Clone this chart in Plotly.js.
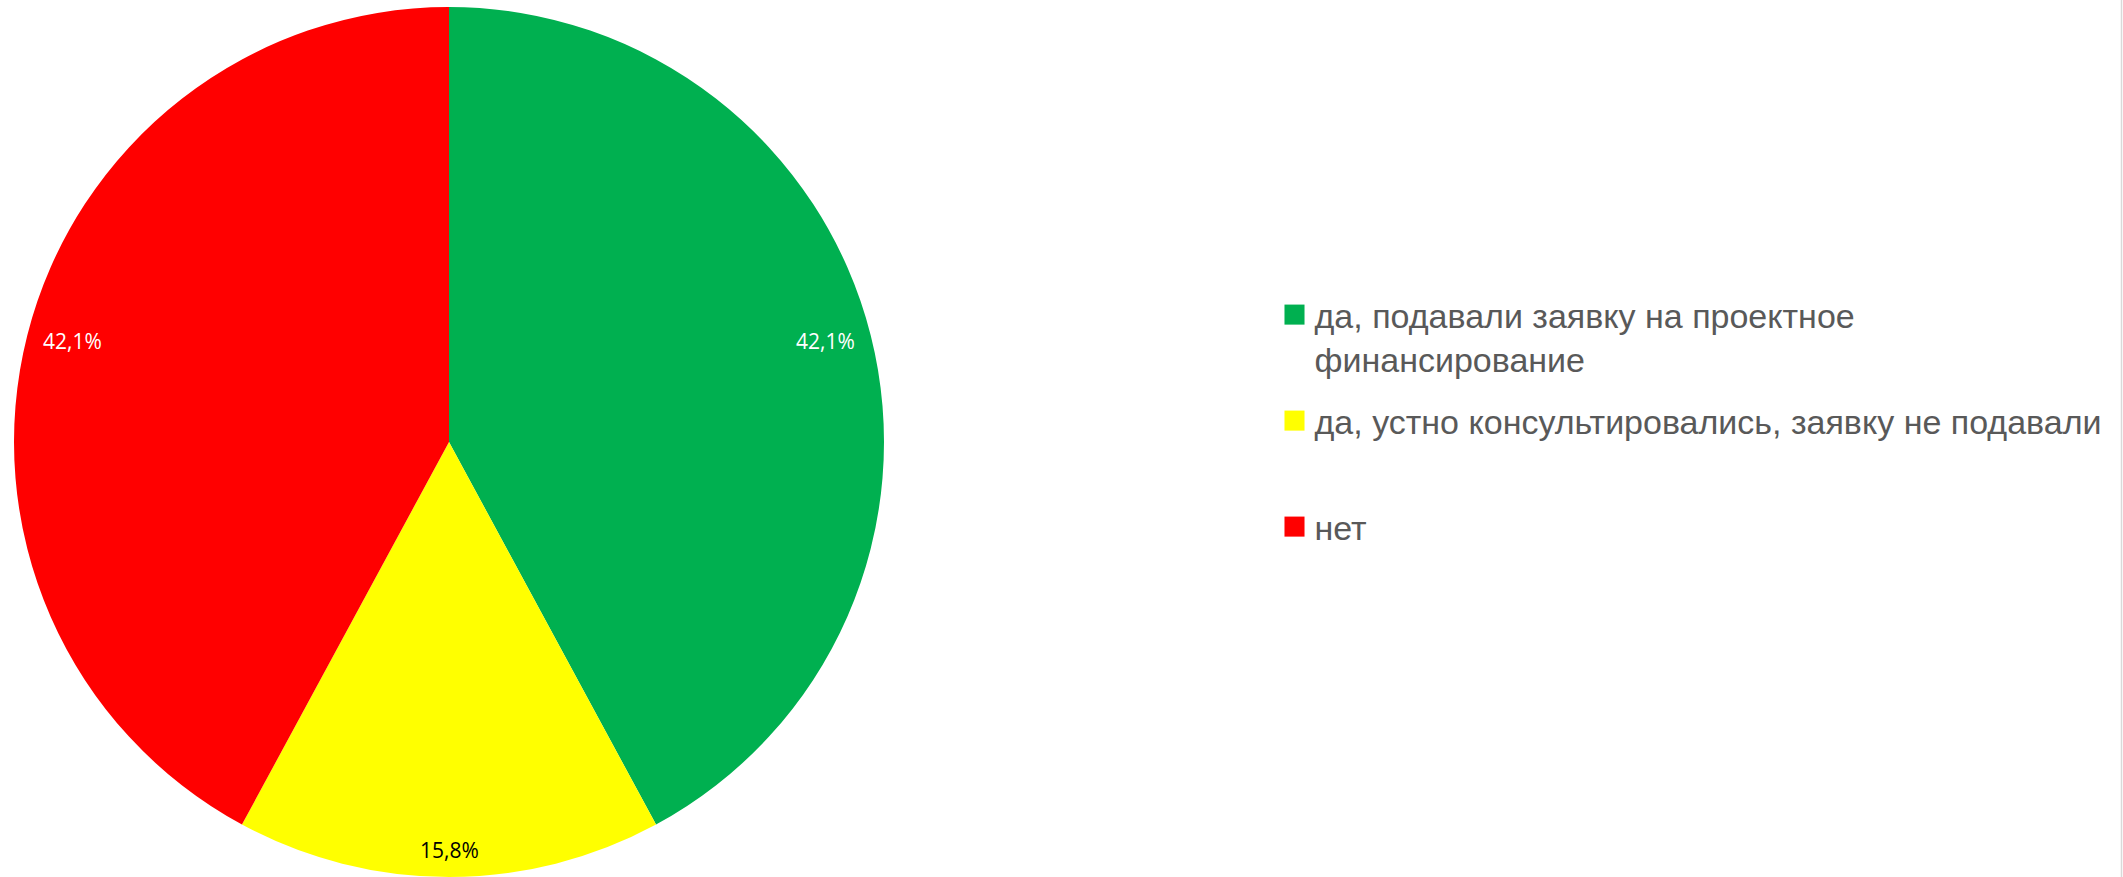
<!DOCTYPE html>
<html>
<head>
<meta charset="utf-8">
<script src="https://cdn.plot.ly/plotly-3.0.1.min.js"></script>
<style>
html,body{margin:0;padding:0;background:#fff;overflow:hidden;}
#chart{width:2123px;height:877px;}
</style>
</head>
<body>
<div id="chart"></div>
<script>
// ---- Data ----
const categories = [
  "да, подавали заявку на проектное<br>финансирование",
  "да, устно консультировались, заявку не подавали<br>&nbsp;",
  "нет<br>&nbsp;"
];
const counts = [8, 3, 8];
const sliceColors = ["#00B050", "#FFFF00", "#FF0000"];
const labelColors = ["#FFFFFF", "#000000", "#FFFFFF"];

// ---- Layout constants ----
const W = 2123, H = 877;
const PIE_CX = 449, PIE_TOP = 7;
const PIE_R = (H - PIE_TOP) / 2;
const PIE_CY = PIE_TOP + PIE_R;

const trace = {
  type: "pie",
  labels: categories,
  values: counts,
  sort: false,
  direction: "clockwise",
  rotation: 0,
  marker: {colors: sliceColors, line: {width: 0}},
  textposition: "none",
  hoverinfo: "label+percent",
  domain: {x: [(PIE_CX - PIE_R) / W, (PIE_CX + PIE_R) / W], y: [0, 1 - PIE_TOP / H]}
};

// Data labels, positioned near the outer edge along each slice bisector
const total = counts.reduce((a, b) => a + b, 0);
const annotations = [];
let cum = 0;
const HW = 29, HH = 11, EDGE = 16;
counts.forEach(function (v, i) {
  const mid = (cum + v / 2) / total * 2 * Math.PI;
  cum += v;
  const ux = Math.sin(mid), uy = -Math.cos(mid);
  const d = PIE_R - EDGE - (HW * Math.abs(ux) + HH * Math.abs(uy));
  const px = PIE_CX + d * ux, py = PIE_CY + d * uy;
  annotations.push({
    xref: "paper", yref: "paper",
    x: px / W, y: 1 - py / H,
    xanchor: "center", yanchor: "middle",
    yshift: 6 * Math.abs(ux),
    showarrow: false,
    text: (v / total * 100).toFixed(1).replace(".", ",") + "%",
    font: {family: "Open Sans, Noto Sans, sans-serif", size: 21, color: labelColors[i]}
  });
});

const layout = {
  width: W,
  height: H,
  margin: {l: 0, r: 0, t: 0, b: 0},
  paper_bgcolor: "#FFFFFF",
  separators: ", ",
  showlegend: true,
  legend: {
    x: 1274.5 / W,
    xanchor: "left",
    y: 1 - 286 / H,
    yanchor: "top",
    valign: "top",
    font: {family: "Liberation Sans, Arial, sans-serif", size: 34, color: "#595959"},
    bgcolor: "rgba(0,0,0,0)",
    borderwidth: 0
  },
  annotations: annotations,
  shapes: [{
    type: "line", xref: "paper", yref: "paper",
    x0: 2121.5 / W, x1: 2121.5 / W, y0: 0, y1: 1,
    line: {color: "#D9D9D9", width: 1.5}
  }]
};

const LEGEND_STEP = 106;
Plotly.newPlot("chart", [trace], layout, {staticPlot: true, displayModeBar: false}).then(function () {
  document.querySelectorAll(".legendpoints path").forEach(function (p) {
    const t = p.getAttribute("transform") || "";
    p.setAttribute("transform", t + " scale(1.67)");
  });
  const items = document.querySelectorAll(".legend .traces");
  let y0 = null;
  items.forEach(function (g, i) {
    const m = /translate\(\s*([-\d.]+)[ ,]+([-\d.]+)\s*\)/.exec(g.getAttribute("transform") || "");
    if (!m) return;
    const x = parseFloat(m[1]), y = parseFloat(m[2]);
    if (y0 === null) y0 = y;
    g.setAttribute("transform", "translate(" + x + "," + (y0 + i * LEGEND_STEP) + ")");
  });
  document.querySelectorAll(".legend .scrollbox").forEach(function (s) {
    s.removeAttribute("clip-path");
  });
});
</script>
</body>
</html>
